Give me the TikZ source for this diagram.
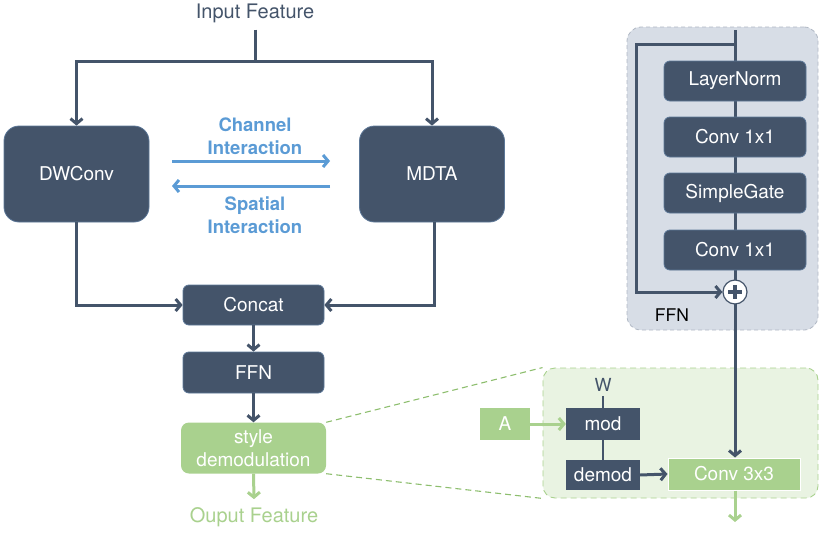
\documentclass[tikz,border=0pt]{standalone}
\usepackage{fontspec}
\setmainfont{TeX Gyre Heros}
\usetikzlibrary{arrows.meta,calc,backgrounds}
\pgfdeclarelayer{back}
\pgfsetlayers{back,background,main}
\definecolor{dk}{HTML}{44546A}
\definecolor{dkb}{HTML}{5C7797}
\definecolor{bl}{HTML}{5B9BD5}
\definecolor{gr}{HTML}{A9D18E}
\definecolor{grd}{HTML}{8DBE6E}
\definecolor{grl}{HTML}{E9F3E2}
\definecolor{gyl}{HTML}{D7DDE6}
\definecolor{gyd}{HTML}{B0B8C4}
\tikzset{
  x=1pt,y=-1pt,
  every node/.style={font=\fontsize{19}{23}\selectfont, inner sep=0pt, align=center},
  dbox/.style={draw=dkb, line width=0.8pt, fill=dk, text=white, rounded corners=6pt},
  bigbox/.style={dbox, rounded corners=15pt, minimum width=145pt, minimum height=96pt},
  gbox/.style={fill=gr, text=white},
  conn/.style={draw=dk, line width=3pt},
  arr/.style={conn, -{Straight Barb[length=5pt,width=12pt,line width=3pt]}},
  garr/.style={draw=gr, line width=3pt, -{Straight Barb[length=5pt,width=12pt,line width=3pt]}},
  barr/.style={draw=bl, line width=3pt, -{Straight Barb[length=5pt,width=12pt,line width=3pt]}},
  btxt/.style={text=bl, font=\fontsize{18.5}{23}\selectfont\bfseries},
  lbl/.style={font=\fontsize{20}{24}\selectfont},
  zoomline/.style={grd, line width=1.1pt, dash pattern=on 6pt off 4pt},
}
\begin{document}
\begin{tikzpicture}
\useasboundingbox (0,0) rectangle (830,538);
% panels
\begin{pgfonlayer}{back}
\node (fp) [draw=gyd, dash pattern=on 4pt off 3pt, line width=0.8pt, fill=gyl, rounded corners=14pt, minimum width=191pt, minimum height=303pt] at (722.5,178.5) {};
\node (gp) [draw=gr, dash pattern=on 6pt off 4pt, line width=0.9pt, fill=grl, rounded corners=12pt, minimum width=275pt, minimum height=130pt] at (680.5,433) {};
\end{pgfonlayer}
\node (ffnlab) [font=\fontsize{17.5}{20}\selectfont] at (672,315) {FFN};

% left column
\node (inp) [lbl, text=dk] at (255,13) {Input Feature};
\node (dw) [bigbox] at (76.5,174) {DWConv};
\node (md) [bigbox] at (432,174) {MDTA};
\node (cc) [dbox, minimum width=141pt, minimum height=40pt] at (253.5,305) {Concat};
\node (ffn) [dbox, minimum width=141pt, minimum height=41pt] at (253.5,372.5) {FFN};
\node (sd) [gbox, rounded corners=8pt, minimum width=145pt, minimum height=51pt] at (253.5,448) {style\\demodulation};
\node (out) [lbl, text=gr] at (254,517) {Ouput Feature};

\node (ci) [btxt] at (255,136) {Channel\\Interaction};
\node (si) [btxt] at (255,215) {Spatial\\Interaction};
\coordinate (c1) at (172,161); \coordinate (c2) at (330,161);
\coordinate (s1) at (330,186); \coordinate (s2) at (172,186);
\draw[barr] (c1) -- (c2);
\draw[barr] (s1) -- (s2);

\coordinate (sp) at (255,61);
\draw[conn] ([yshift=-7pt]inp.south) -- (sp);
\draw[arr] (sp) -| (dw.north);
\draw[arr] (sp) -| (md.north);
\draw[arr] (dw.south) |- (cc.west);
\draw[arr] ([xshift=2pt]md.south) |- (cc.east);
\draw[arr] (cc.south) -- (ffn.north);
\draw[arr] (ffn.south) -- (sd.north);
\draw[garr] (sd.south) -- ([yshift=8pt]out.north);

% dashed zoom lines
\draw[zoomline] (sd.north east) -- (gp.north west);
\draw[zoomline] (sd.south east) -- (gp.south west);

% right column
\coordinate (top) at (735,30);
\coordinate (sk) at (735,44);
\node (ln) [dbox, minimum width=142pt, minimum height=40pt] at (735,81) {LayerNorm};
\node (cv1) [dbox, minimum width=142pt, minimum height=40pt] at (735,137) {Conv 1x1};
\node (sg) [dbox, minimum width=142pt, minimum height=40pt] at (735,193) {SimpleGate};
\node (cv2) [dbox, minimum width=142pt, minimum height=40pt] at (735,250) {Conv 1x1};
\node (pl) [circle, draw=dk, line width=1.2pt, fill=white, minimum size=24pt] at (735,292) {};
\draw[dk, line width=4.5pt] ($(pl)+(-7,0)$) -- ($(pl)+(7,0)$);
\draw[dk, line width=4.5pt] ($(pl)+(0,-7)$) -- ($(pl)+(0,7)$);
\node (cv3) [gbox, draw=white, line width=1pt, minimum width=132pt, minimum height=32pt] at (734,474) {Conv 3x3};
\node (a) [gbox, minimum width=50pt, minimum height=32pt] at (505,424) {A};
\node (mod) [fill=dk, text=white, minimum width=74pt, minimum height=32pt] at (603,424) {mod};
\node (dm) [fill=dk, text=white, minimum width=74pt, minimum height=30pt] at (603,475) {demod};
\node (w) [text=dk, font=\fontsize{18}{20}\selectfont] at (603,385) {W};
\coordinate (o2) at (735,522);

\begin{pgfonlayer}{background}
\draw[arr] (top) -- ([xshift=1pt]cv3.north);
\draw[arr] (sk) -- ++(-99,0) |- (pl.west);
\end{pgfonlayer}
\draw[conn, line width=2pt] ([yshift=-4pt]w.south) -- (mod.north);
\draw[conn, line width=2pt] (mod.south) -- (dm.north);
\draw[garr] (a.east) -- (mod.west);
\draw[arr] (dm.east) -- (cv3.west);
\draw[garr] ([xshift=1pt]cv3.south) -- (o2);
\end{tikzpicture}
\end{document}
